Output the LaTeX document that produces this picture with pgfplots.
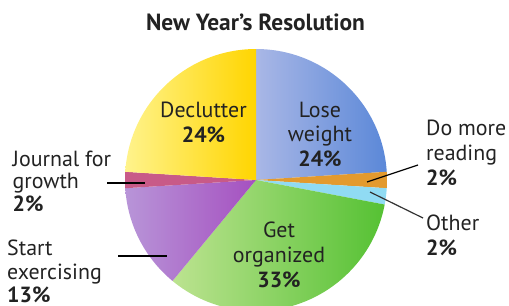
\documentclass[border=0pt]{standalone}
\usepackage{pgfplots}
\pgfplotsset{compat=1.18}
\usepackage{pgfplotstable}
\usepackage{fontspec}
\setmainfont{PT Sans}

\definecolor{loseL}{HTML}{A9B7E6}
\definecolor{loseR}{HTML}{5B88D8}
\definecolor{readC}{HTML}{E39A2E}
\definecolor{otherC}{HTML}{90DBF3}
\definecolor{orgL}{HTML}{BCE390}
\definecolor{orgR}{HTML}{55C133}
\definecolor{exL}{HTML}{B895D8}
\definecolor{exR}{HTML}{A550C0}
\definecolor{jourC}{HTML}{C85A88}
\definecolor{decL}{HTML}{FFF38C}
\definecolor{decR}{HTML}{FFD500}
\definecolor{txt}{HTML}{222222}

\pgfplotstableread{
label value
LoseWeight 24
DoMoreReading 2
Other 2
GetOrganized 33
StartExercising 13
JournalForGrowth 2
Declutter 24
}\pietable

\newcommand\slice[3]{%
  \shade[left color=#2, right color=#3]
    (axis cs:256,180) -- ++(\csname sa#1\endcsname:131bp)
    arc[start angle=\csname sa#1\endcsname, end angle=\csname sb#1\endcsname, radius=131bp] -- cycle;}

\tikzset{
  lab/.style={font=\fontsize{22}{25}\selectfont, text=txt, inner sep=0pt},
  blab/.style={font=\fontsize{22}{25}\selectfont\bfseries, text=txt, inner sep=0pt}}

\begin{document}
\begin{tikzpicture}
\useasboundingbox (0,0) rectangle (509bp,306bp);
\pgfmathsetmacro\cum{0}
\pgfplotsforeachungrouped \i in {0,...,6}{%
  \pgfplotstablegetelem{\i}{value}\of\pietable
  \pgfmathsetmacro\a{90-3.6*\cum}%
  \pgfmathsetmacro\cum{\cum+\pgfplotsretval}%
  \pgfmathsetmacro\b{90-3.6*\cum}%
  \expandafter\xdef\csname sa\i\endcsname{\a}%
  \expandafter\xdef\csname sb\i\endcsname{\b}%
}
\begin{axis}[at={(0,0)}, anchor=south west, scale only axis,
  width=509bp, height=306bp, xmin=0, xmax=509, ymin=0, ymax=306,
  y dir=reverse, hide axis, clip=true]
\slice{0}{loseL}{loseR}
\slice{1}{readC}{readC}
\slice{2}{otherC}{otherC}
\slice{3}{orgL}{orgR}
\slice{4}{exL}{exR}
\slice{5}{jourC}{jourC}
\slice{6}{decL}{decR}
% leader lines
\draw[black, line width=1.2bp] (axis cs:367,182) -- (axis cs:418,165);
\draw[black!80, line width=1.2bp] (axis cs:370,192) -- (axis cs:423,218);
\draw[black, line width=1.2bp] (axis cs:107,183) -- (axis cs:145,183);
\draw[black, line width=1.2bp] (axis cs:118,256) -- (axis cs:167,256);
% title
\node[anchor=base, inner sep=0pt, text=txt, font=\fontsize{23.5}{28}\selectfont\bfseries] at (axis cs:255.5,31) {New Year’s Resolution};
% slice labels
\node[lab, anchor=base] at (axis cs:203.5,117.5) {Declutter};
\node[blab, anchor=base] at (axis cs:203.5,142) {24\%};
\node[lab, anchor=base] at (axis cs:320,117.5) {Lose};
\node[lab, anchor=base] at (axis cs:320,141) {weight};
\node[blab, anchor=base] at (axis cs:320,166) {24\%};
\node[lab, anchor=base] at (axis cs:279,237) {Get};
\node[lab, anchor=base] at (axis cs:279,262) {organized};
\node[blab, anchor=base] at (axis cs:279,287) {33\%};
% outside labels
\node[lab, anchor=base west] at (axis cs:426,135.5) {Do more};
\node[lab, anchor=base west] at (axis cs:426,160) {reading};
\node[blab, anchor=base west] at (axis cs:426,185) {2\%};
\node[lab, anchor=base west] at (axis cs:426,230) {Other};
\node[blab, anchor=base west] at (axis cs:426,255) {2\%};
\node[lab, anchor=base west] at (axis cs:12.5,166.7) {Journal for};
\node[lab, anchor=base west] at (axis cs:12.5,188.5) {growth};
\node[blab, anchor=base west] at (axis cs:12.5,211) {2\%};
\node[lab, anchor=base west] at (axis cs:7,255) {Start};
\node[lab, anchor=base west] at (axis cs:7,279) {exercising};
\node[blab, anchor=base west] at (axis cs:7,302) {13\%};
\end{axis}
\end{tikzpicture}
\end{document}
